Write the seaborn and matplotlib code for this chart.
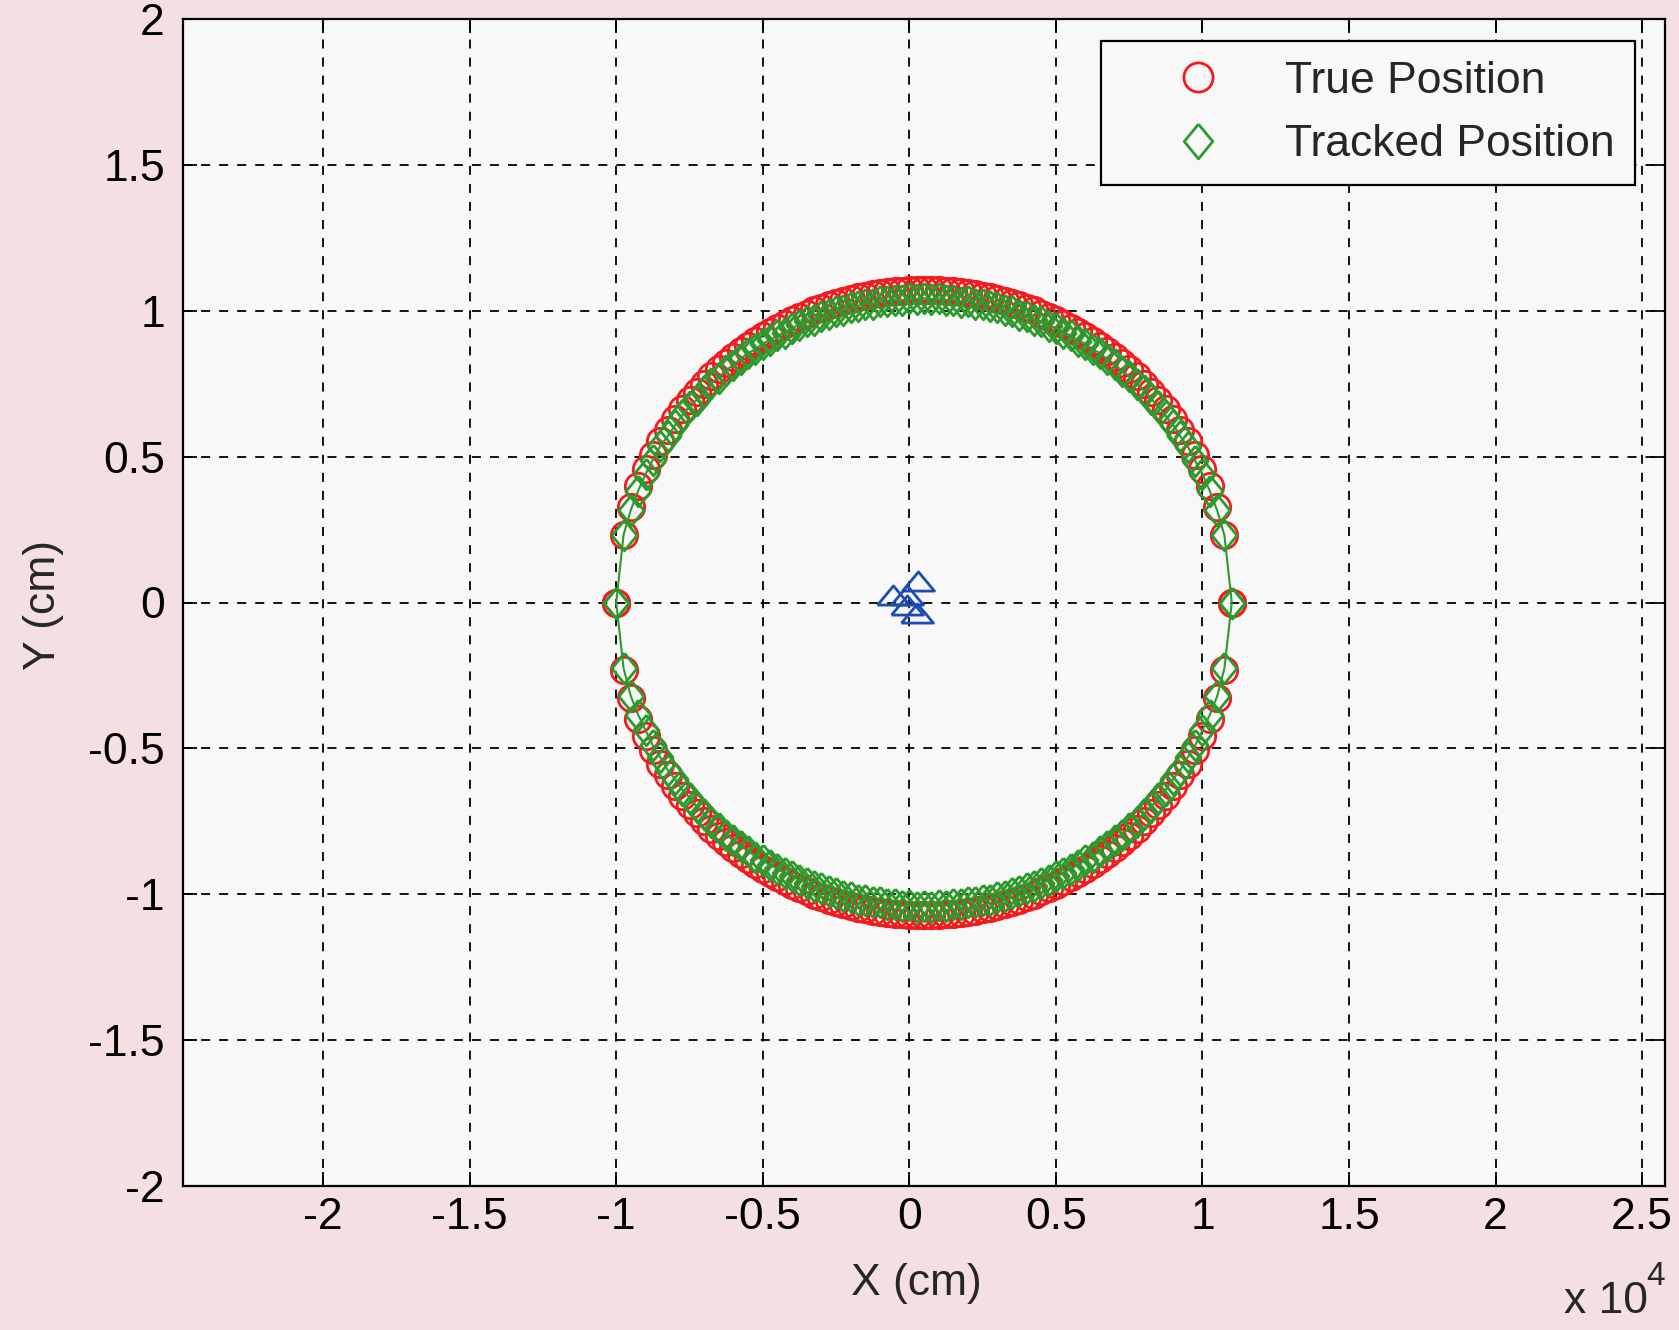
import matplotlib
matplotlib.use("Agg")
import matplotlib.pyplot as plt
import seaborn as sns
import pandas as pd
from matplotlib.lines import Line2D

# ---------------- data (x in units of 1e4 cm) ----------------
x_upper = [-1.000, -0.975, -0.950, -0.925, -0.900, -0.875, -0.850, -0.825, -0.800, -0.775,
           -0.750, -0.725, -0.700, -0.675, -0.650, -0.625, -0.600, -0.575, -0.550, -0.525,
           -0.500, -0.475, -0.450, -0.425, -0.400, -0.375, -0.350, -0.325, -0.300, -0.275,
           -0.250, -0.225, -0.200, -0.175, -0.150, -0.125, -0.100, -0.075, -0.050, -0.025,
           0.000, 0.025, 0.050, 0.075, 0.100, 0.125, 0.150, 0.175, 0.200, 0.225,
           0.250, 0.275, 0.300, 0.325, 0.350, 0.375, 0.400, 0.425, 0.450, 0.475,
           0.500, 0.525, 0.550, 0.575, 0.600, 0.625, 0.650, 0.675, 0.700, 0.725,
           0.750, 0.775, 0.800, 0.825, 0.850, 0.875, 0.900, 0.925, 0.950, 0.975,
           1.000, 1.025, 1.050, 1.075, 1.100]
x_lower = [1.100, 1.075, 1.050, 1.025, 1.000, 0.975, 0.950, 0.925, 0.900, 0.875,
           0.850, 0.825, 0.800, 0.775, 0.750, 0.725, 0.700, 0.675, 0.650, 0.625,
           0.600, 0.575, 0.550, 0.525, 0.500, 0.475, 0.450, 0.425, 0.400, 0.375,
           0.350, 0.325, 0.300, 0.275, 0.250, 0.225, 0.200, 0.175, 0.150, 0.125,
           0.100, 0.075, 0.050, 0.025, 0.000, -0.025, -0.050, -0.075, -0.100, -0.125,
           -0.150, -0.175, -0.200, -0.225, -0.250, -0.275, -0.300, -0.325, -0.350, -0.375,
           -0.400, -0.425, -0.450, -0.475, -0.500, -0.525, -0.550, -0.575, -0.600, -0.625,
           -0.650, -0.675, -0.700, -0.725, -0.750, -0.775, -0.800, -0.825, -0.850, -0.875,
           -0.900, -0.925, -0.950, -0.975, -1.000]

y_true_upper = [0.000, 0.233, 0.326, 0.398, 0.456, 0.507, 0.552, 0.592, 0.628, 0.663,
                0.694, 0.722, 0.750, 0.775, 0.799, 0.820, 0.842, 0.861, 0.879, 0.897,
                0.912, 0.927, 0.942, 0.955, 0.968, 0.979, 0.990, 1.001, 1.010, 1.018,
                1.026, 1.033, 1.040, 1.047, 1.052, 1.056, 1.060, 1.064, 1.066, 1.068,
                1.070, 1.071, 1.071, 1.071, 1.070, 1.068, 1.066, 1.064, 1.060, 1.056,
                1.052, 1.047, 1.040, 1.033, 1.026, 1.018, 1.010, 1.001, 0.990, 0.979,
                0.968, 0.955, 0.942, 0.927, 0.912, 0.897, 0.879, 0.861, 0.842, 0.820,
                0.799, 0.775, 0.750, 0.722, 0.694, 0.663, 0.628, 0.592, 0.552, 0.507,
                0.456, 0.398, 0.326, 0.233, 0.000]
y_true_lower = [-0.000, -0.233, -0.326, -0.398, -0.456, -0.507, -0.552, -0.592, -0.628, -0.663,
                -0.694, -0.722, -0.750, -0.775, -0.799, -0.820, -0.842, -0.861, -0.879, -0.897,
                -0.912, -0.927, -0.942, -0.955, -0.968, -0.979, -0.990, -1.001, -1.010, -1.018,
                -1.026, -1.033, -1.040, -1.047, -1.052, -1.056, -1.060, -1.064, -1.066, -1.068,
                -1.070, -1.071, -1.071, -1.071, -1.070, -1.068, -1.066, -1.064, -1.060, -1.056,
                -1.052, -1.047, -1.040, -1.033, -1.026, -1.018, -1.010, -1.001, -0.990, -0.979,
                -0.968, -0.955, -0.942, -0.927, -0.912, -0.897, -0.879, -0.861, -0.842, -0.820,
                -0.799, -0.775, -0.750, -0.722, -0.694, -0.663, -0.628, -0.592, -0.552, -0.507,
                -0.456, -0.398, -0.326, -0.233, -0.000]

y_track_upper = [0.000, 0.232, 0.318, 0.383, 0.440, 0.489, 0.536, 0.569, 0.607, 0.641,
                 0.672, 0.695, 0.726, 0.752, 0.771, 0.797, 0.814, 0.836, 0.855, 0.868,
                 0.887, 0.900, 0.916, 0.925, 0.941, 0.951, 0.964, 0.970, 0.983, 0.989,
                 0.999, 1.002, 1.013, 1.017, 1.024, 1.024, 1.032, 1.034, 1.038, 1.036,
                 1.042, 1.041, 1.043, 1.040, 1.042, 1.037, 1.038, 1.031, 1.033, 1.024,
                 1.024, 1.015, 1.013, 1.002, 0.999, 0.987, 0.983, 0.970, 0.964, 0.949,
                 0.942, 0.925, 0.916, 0.898, 0.887, 0.868, 0.855, 0.833, 0.818, 0.793,
                 0.776, 0.749, 0.728, 0.697, 0.673, 0.639, 0.609, 0.569, 0.534, 0.486,
                 0.440, 0.382, 0.316, 0.230, 0.000]
y_track_lower = [-0.000, -0.225, -0.322, -0.385, -0.438, -0.490, -0.530, -0.573, -0.605, -0.642,
                 -0.669, -0.700, -0.724, -0.752, -0.772, -0.796, -0.815, -0.836, -0.851, -0.871,
                 -0.883, -0.901, -0.912, -0.928, -0.938, -0.952, -0.960, -0.973, -0.979, -0.990,
                 -0.995, -1.005, -1.009, -1.018, -1.020, -1.027, -1.028, -1.035, -1.034, -1.039,
                 -1.038, -1.042, -1.039, -1.042, -1.038, -1.039, -1.034, -1.035, -1.028, -1.027,
                 -1.020, -1.018, -1.009, -1.005, -0.995, -0.990, -0.979, -0.973, -0.960, -0.952,
                 -0.938, -0.928, -0.912, -0.901, -0.883, -0.871, -0.851, -0.836, -0.815, -0.796,
                 -0.772, -0.752, -0.724, -0.700, -0.669, -0.642, -0.605, -0.573, -0.530, -0.490,
                 -0.438, -0.385, -0.322, -0.225, -0.000]

# sensor / anchor positions near the origin (blue triangles)
anchor_x = [0.031, -0.055, -0.007, 0.027, -0.007]
anchor_y = [0.074, 0.026, 0.026, -0.036, -0.009]

x_ticks = [-2, -1.5, -1, -0.5, 0, 0.5, 1, 1.5, 2, 2.5]
x_tick_labels = ["-2", "-1.5", "-1", "-0.5", "0", "0.5", "1", "1.5", "2", "2.5"]
y_ticks = [-2, -1.5, -1, -0.5, 0, 0.5, 1, 1.5, 2]
y_tick_labels = ["-2", "-1.5", "-1", "-0.5", "0", "0.5", "1", "1.5", "2"]
legend_labels = ["True Position", "Tracked Position"]

# ---------------- styling ----------------
sns.set_style("ticks")
plt.rcParams["font.family"] = ["Liberation Sans", "DejaVu Sans"]

RED = "#f41a1e"
GREEN = "#2c9a2c"
BLUE = "#1c4cb0"
FIG_BG = "#f4dfe1"
AX_BG = "#f8f8f9"
FS = 32

diamond = [(0, 1), (0.82, 0), (0, -1), (-0.82, 0), (0, 1)]
triangle = [(-1, -0.6), (1, -0.6), (0, 0.6), (-1, -0.6)]

true_df = pd.DataFrame({"x": x_upper + x_lower, "y": y_true_upper + y_true_lower})
track_df = pd.DataFrame({"x": x_upper + x_lower, "y": y_track_upper + y_track_lower})
anchor_df = pd.DataFrame({"x": anchor_x, "y": anchor_y})

fig = plt.figure(figsize=(16.79, 13.30), dpi=100, facecolor=FIG_BG)
ax = fig.add_axes([183 / 1679, 1 - 1186 / 1330, (1665 - 183) / 1679, (1186 - 19) / 1330])
ax.set_facecolor(AX_BG)

# true positions: red hollow circles
sns.lineplot(data=true_df, x="x", y="y", sort=False, estimator=None, ax=ax,
             linestyle="", marker="o", markersize=19, markerfacecolor="none",
             markeredgecolor=RED, markeredgewidth=2.0, color=RED, zorder=3)
# tracked path line
sns.lineplot(data=track_df, x="x", y="y", sort=False, estimator=None, ax=ax,
             color=GREEN, linewidth=1.5, zorder=4)
# tracked positions: green hollow diamonds
sns.lineplot(data=track_df, x="x", y="y", sort=False, estimator=None, ax=ax,
             linestyle="", marker=diamond, markersize=22, markerfacecolor="none",
             markeredgecolor=GREEN, markeredgewidth=2.0, color=GREEN, zorder=5)
# anchors
sns.lineplot(data=anchor_df, x="x", y="y", sort=False, estimator=None, ax=ax,
             linestyle="", marker=triangle, markersize=23, markerfacecolor="none",
             markeredgecolor=BLUE, markeredgewidth=2.0, color=BLUE, zorder=6)

ax.set_xlim(-2.478, 2.578)
ax.set_ylim(-2, 2)
ax.set_xticks(x_ticks)
ax.set_xticklabels(x_tick_labels)
ax.set_yticks(y_ticks)
ax.set_yticklabels(y_tick_labels)

ax.grid(True, color="black", linestyle=(0, (5, 5)), linewidth=1.3)
ax.set_axisbelow(True)
for s in ax.spines.values():
    s.set_color("black")
    s.set_linewidth(1.6)
    s.set_visible(True)

ax.tick_params(axis="both", direction="in", length=10, width=1.3, colors="black",
               labelsize=FS, top=True, right=True)
ax.tick_params(axis="x", pad=8)
ax.tick_params(axis="y", pad=13)

ax.set_xlabel("X (cm)", fontsize=FS, va="center")
ax.set_ylabel("Y (cm)", fontsize=FS, va="center")
ax.xaxis.set_label_coords((916 - 183) / 1482, (1186 - 1284) / 1167)
ax.yaxis.set_label_coords((44 - 183) / 1482, (1186 - 605) / 1167)

handles = [
    Line2D([], [], linestyle="", marker="o", markersize=21, markerfacecolor="none",
           markeredgecolor=RED, markeredgewidth=2.0),
    Line2D([], [], linestyle="", marker=diamond, markersize=25, markerfacecolor="none",
           markeredgecolor=GREEN, markeredgewidth=2.0),
]
leg = ax.legend(handles, legend_labels, loc="upper right",
                bbox_to_anchor=((1635 - 183) / 1482, (1186 - 41) / 1167),
                borderaxespad=0, frameon=True, fancybox=False, fontsize=FS,
                handlelength=3.47, handletextpad=0.22, borderpad=0.45, labelspacing=0.5,
                edgecolor="black", facecolor=AX_BG, framealpha=1)
leg.get_frame().set_linewidth(1.6)
leg.set_zorder(10)

fig.text(1648 / 1679, 1 - 1322 / 1330, "x 10", ha="right", va="bottom", fontsize=FS)
fig.text(1646 / 1679, 1 - 1292 / 1330, "4", ha="left", va="bottom", fontsize=24)

fig.savefig("out.png", dpi=100, facecolor=FIG_BG)
